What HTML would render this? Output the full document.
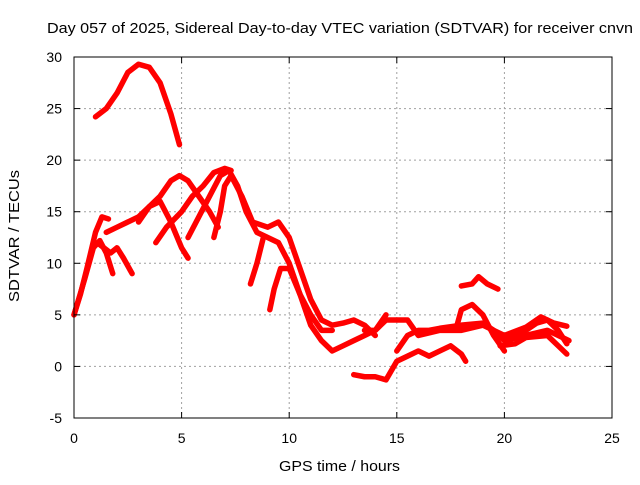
<!DOCTYPE html>
<html><head><meta charset="utf-8"><style>
body{margin:0;background:#fff}
svg text{font-family:"Liberation Sans",sans-serif;font-size:13px;fill:#000}
</style></head><body>
<svg id="chart" width="640" height="480" viewBox="0 0 640 480">
<rect width="640" height="480" fill="#fff"/>
<text x="47" y="33" style="font-size:15px" textLength="586" lengthAdjust="spacingAndGlyphs">Day 057 of 2025, Sidereal Day-to-day VTEC variation (SDTVAR) for receiver cnvn</text>
<g id="grid"></g>
<g id="series"></g>
<rect x="74" y="57" width="538" height="361" fill="none" stroke="#000" stroke-width="1"/>
<g id="ticks"></g>
<text x="279" y="471" style="font-size:15px" textLength="121" lengthAdjust="spacingAndGlyphs">GPS time / hours</text>
<text transform="translate(19,302) rotate(-90)" style="font-size:15px" textLength="132" lengthAdjust="spacingAndGlyphs">SDTVAR / TECUs</text>
</svg>
<script>
const xTicks=[0,5,10,15,20,25];
const yTicks=[-5,0,5,10,15,20,25,30];
const track1=[[1,24.2],[1.5,25],[2,26.5],[2.5,28.5],[3,29.3],[3.5,29],[4,27.5],[4.5,24.5],[4.9,21.5]];
const track2=[[0,5],[0.3,7],[0.6,9.5],[1,13],[1.3,14.5],[1.6,14.3]];
const track3=[[0,5],[0.5,8.5],[0.9,11.5],[1.2,12.2],[1.5,11],[1.8,9]];
const track4=[[1.2,11.8],[1.7,11],[2,11.5],[2.3,10.5],[2.7,9]];
const track5=[[1.5,13],[2,13.5],[2.5,14],[3,14.5],[3.5,15.5],[4,16.5],[4.5,18],[4.9,18.5],[5.3,18],[5.8,16.5],[6.3,15],[6.7,13.5]];
const track6=[[3.8,12],[4.3,13.5],[5,15],[5.5,16.5],[6,17.5],[6.5,18.8],[7,19.2],[7.3,19]];
const track7=[[3,14],[3.5,15.5],[4,16],[4.5,14],[5,11.5],[5.3,10.5]];
const track8=[[5.3,12.5],[5.8,14.5],[6.3,16.5],[6.8,18.5],[7.2,19],[7.6,17.5],[8,15],[8.5,13],[9,12.5],[9.5,12],[10,10],[10.5,7],[11,5],[11.5,3.5],[12,3.5]];
const track9=[[6.5,12.5],[6.8,15],[7,17.5],[7.3,18.5],[7.8,16.5],[8.3,14],[9,13.5],[9.5,14],[10,12.5],[10.5,9.5],[11,6.5],[11.5,4.5],[12,4],[12.5,4.2],[13,4.5],[13.5,4],[14,3]];
const track10=[[8.2,8],[8.5,10],[8.8,12.5]];
const track11=[[9.1,5.5],[9.3,7.5],[9.6,9.5],[10,9.5],[10.5,7],[11,4],[11.5,2.5],[12,1.5],[12.5,2],[13,2.5],[13.5,3],[14,3.5],[14.5,5]];
const track12=[[13,-0.8],[13.5,-1],[14,-1],[14.5,-1.3],[15,0.5],[15.5,1],[16,1.5],[16.5,1],[17,1.5],[17.5,2],[18,1.2],[18.2,0.5]];
const track13=[[15,1.5],[15.5,3],[16,3.5],[16.5,3.5],[17,3.7],[18,4],[19,4.2],[19.5,3.5],[20,2.5],[21,3],[22,3.5],[23,2.5]];
const track14=[[18,7.8],[18.5,8],[18.8,8.7],[19.2,8],[19.7,7.5]];
const track15=[[17.8,4],[18,5.5],[18.5,6],[19,5],[19.5,3],[20,1.5]];
const track16=[[13.5,3.5],[14,3.5],[14.5,4.5],[15,4.5],[15.5,4.5],[16,3],[17,3.5],[18,3.5],[19,4],[20,3],[20.5,3],[21,3.5],[21.5,4.2],[22,4.5],[22.5,3.5],[22.9,2.2]];
const track17=[[20,3],[21,3.8],[21.7,4.8],[22.3,4.2],[22.9,3.9]];
const track18=[[19.8,2],[20.5,2.2],[21,2.8],[22,3],[22.5,2],[22.9,1.2]];
const tracks=[track1,track2,track3,track4,track5,track6,track7,track8,track9,track10,track11,track12,track13,track14,track15,track16,track17,track18];

const X0=74,X1=612,Y0=418,Y1=57;
function xs(v){return X0+(v-0)/(25-0)*(X1-X0);}
function ys(v){return Y0-(v+5)/(35)*(Y0-Y1);}
const NS="http://www.w3.org/2000/svg";
const grid=document.getElementById('grid'),ticks=document.getElementById('ticks'),ser=document.getElementById('series');
function mk(tag,attrs,parent){const e=document.createElementNS(NS,tag);for(const k in attrs)e.setAttribute(k,attrs[k]);parent.appendChild(e);return e;}
xTicks.forEach(t=>{
  const x=xs(t);
  if(t>0&&t<25){const g=mk('line',{x1:x,x2:x,y1:Y1,y2:Y0,stroke:'#a0a0a0','stroke-dasharray':'2,3'},grid);
  
  }
  mk('line',{x1:x,x2:x,y1:Y0,y2:Y0-6,stroke:'#000'},ticks);
  mk('line',{x1:x,x2:x,y1:Y1,y2:Y1+6,stroke:'#000'},ticks);
  const l=mk('text',{x:x,y:443,'text-anchor':'middle',style:'font-size:14px'},ticks);l.textContent=t;
  
  
});
yTicks.forEach(t=>{
  const y=ys(t);
  if(t>-5&&t<30){const g=mk('line',{x1:X0,x2:X1,y1:y,y2:y,stroke:'#a0a0a0','stroke-dasharray':'2,3'},grid);
  
  }
  mk('line',{x1:X0,x2:X0+6,y1:y,y2:y,stroke:'#000'},ticks);
  mk('line',{x1:X1,x2:X1-6,y1:y,y2:y,stroke:'#000'},ticks);
  const l=mk('text',{x:62,y:y+5,'text-anchor':'end',style:'font-size:14px'},ticks);l.textContent=t;
  
  
});
tracks.forEach((tr,i)=>{
  const p=mk('polyline',{points:tr.map(d=>xs(d[0])+','+ys(d[1])).join(' '),fill:'none',stroke:'#ff0000','stroke-width':5.5,'stroke-linejoin':'round','stroke-linecap':'round'},ser);
  
  
});
</script>
</body></html>
